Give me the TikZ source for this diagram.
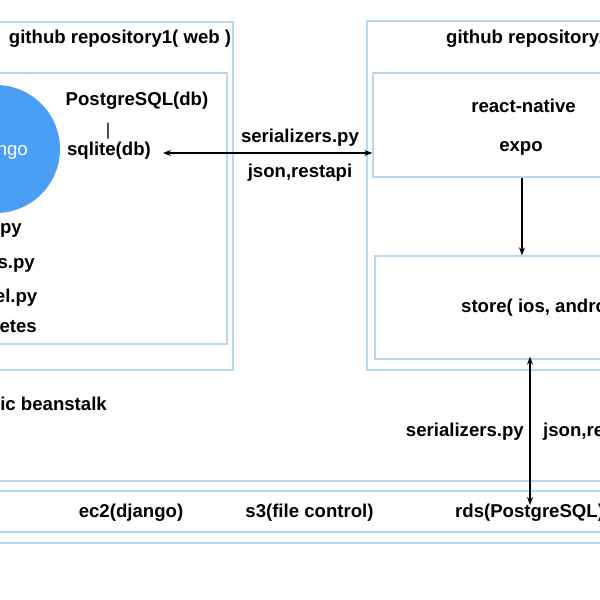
\documentclass[tikz,border=0pt]{standalone}
\usepackage{fontspec}
\setmainfont{Liberation Sans}
\usetikzlibrary{arrows.meta}
\definecolor{boxline}{RGB}{184,216,242}
\definecolor{djblue}{RGB}{74,158,245}
\tikzset{
  box/.style={draw=boxline, line width=1.3pt, fill=none, inner sep=0pt},
  lbl/.style={inner sep=0pt, font=\fontsize{18.6}{20}\selectfont\bfseries},
  conn/.style={line width=1.1pt, -{Stealth[length=8pt,width=6pt]}},
  biconn/.style={line width=1.1pt, {Stealth[length=8pt,width=6pt]}-{Stealth[length=8pt,width=6pt]}}
}
\begin{document}
\begin{tikzpicture}[x=1pt,y=-1pt]
\useasboundingbox (0,0) rectangle (600,600);
\clip (0,0) rectangle (600,600);
% repository 1
\node[box, minimum width=383pt, minimum height=348pt] (repo1) at (41.5,196) {};
\node[box, minimum width=367pt, minimum height=271pt] (inner1) at (43.5,208.5) {};
\node[lbl] (t1) at (120,39) {github repository1( web )};
\node[fill=djblue, circle, minimum size=128pt, inner sep=0pt] (dj) at (-4,149) {};
\node[inner sep=0pt, anchor=east, text=white, font=\fontsize{18.6}{20}\selectfont] (djt) at (28,151) {django};
\node[lbl] (pg) at (137,101) {PostgreSQL(db)};
\node[inner sep=0pt, font=\fontsize{17}{20}\selectfont] (bar) at (108,131) {|};
\node[lbl] (sql) at (109,151) {sqlite(db)};
\node[lbl, anchor=east] (f1) at (22,229) {urls.py};
\node[lbl, anchor=east] (f2) at (35,264) {views.py};
\node[lbl, anchor=east] (f3) at (37.5,298) {model.py};
\node[lbl, anchor=east] (f4) at (37,328) {templetes};
\node[lbl, anchor=east] (eb) at (107,404) {elastic beanstalk};
% repository 2
\node[box, minimum width=350pt, minimum height=349pt] (repo2) at (542,195.5) {};
\node[lbl, anchor=west] (t2) at (446,39) {github repository2( app )};
\node[box, minimum width=298pt, minimum height=104pt] (rn) at (522,125) {};
\node[lbl] (rnt) at (523.5,106) {react-native};
\node[lbl] (expo) at (521,148) {expo};
\node[box, lbl, minimum width=346pt, minimum height=103pt] (store) at (548,307.5) {store( ios, android )};
% middle labels
\node[lbl] (ser1) at (300,138) {serializers.py};
\node[lbl] (js1) at (300,173) {json,restapi};
\node[lbl, anchor=east] (ser2) at (524,432) {serializers.py};
\node[lbl, anchor=west] (js2) at (543,432) {json,restapi};
% AWS bands
\node[box, minimum width=640pt, minimum height=62pt] (aws) at (300,512) {};
\node[box, minimum width=640pt, minimum height=41pt] (awsin) at (300,511.5) {};
\node[lbl] (ec2) at (131,513) {ec2(django)};
\node[lbl] (s3) at (309.5,513) {s3(file control)};
\node[lbl, anchor=west] (rds) at (455,513) {rds(PostgreSQL)};
% connectors
\coordinate (ha) at (163,153);
\draw[biconn] (ha) -- (ha -| rn.west);
\draw[conn] (rn.south) -- (rn.south |- store.north);
\coordinate (va) at (530,505);
\draw[biconn] ([yshift=3pt]va |- store.south) -- (va);
\end{tikzpicture}
\end{document}
